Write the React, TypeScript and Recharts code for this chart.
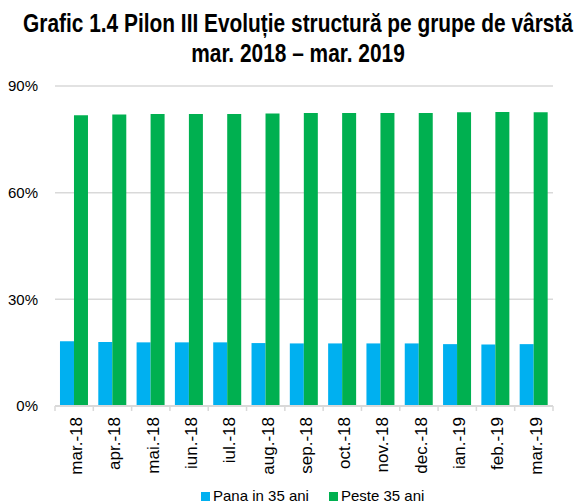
import { BarChart, Bar, XAxis, YAxis, CartesianGrid, Legend } from "recharts";

const months = [
  "mar.-18", "apr.-18", "mai.-18", "iun.-18", "iul.-18", "aug.-18", "sep.-18",
  "oct.-18", "nov.-18", "dec.-18", "ian.-19", "feb.-19", "mar.-19",
];
const under35 = [18.2, 18.0, 17.9, 17.9, 17.9, 17.7, 17.6, 17.6, 17.6, 17.6, 17.4, 17.3, 17.4];
const over35 = [81.8, 82.0, 82.1, 82.1, 82.1, 82.3, 82.4, 82.4, 82.4, 82.4, 82.6, 82.7, 82.6];
const yTicks = [0, 30, 60, 90];
const titleLines = [
  "Grafic 1.4 Pilon III Evoluție structură pe grupe de vârstă",
  "mar. 2018 – mar. 2019",
];

const BLUE = "#00b0f0";
const GREEN = "#00b050";
const GRID = "#d9d9d9";

const data = months.map((month, i) => ({
  month,
  under35: under35[i],
  over35: over35[i],
}));

/* eslint-disable @typescript-eslint/no-explicit-any */
function MonthTick({ x, y, payload, index, width }: any) {
  const half = payload?.offset || width / months.length / 2;
  return (
    <g>
      <line x1={x - half} x2={x - half} y1={y} y2={y + 5} stroke={GRID} strokeWidth={1.5} />
      {index === months.length - 1 && (
        <line x1={x + half} x2={x + half} y1={y} y2={y + 5} stroke={GRID} strokeWidth={1.5} />
      )}
      <text
        transform={`translate(${x},${y + 11}) rotate(-90)`}
        textAnchor="end"
        dy="0.46em"
        fontSize={17}
        fill="#000"
      >
        {payload.value}
      </text>
    </g>
  );
}

function LegendBox({ payload }: any) {
  return (
    <div
      style={{
        display: "flex",
        alignItems: "center",
        height: 22,
        paddingTop: 6,
        paddingLeft: 201,
        boxSizing: "border-box",
        fontSize: 15,
        lineHeight: "16px",
        color: "#000",
      }}
    >
      {payload.map((e: any, i: number) => (
        <div key={e.value} style={{ display: "flex", alignItems: "center", marginRight: i === 0 ? 20 : 0 }}>
          <span style={{ width: 9, height: 9, background: e.color, marginRight: 3, display: "inline-block" }} />
          <span>{e.value}</span>
        </div>
      ))}
    </div>
  );
}

export default function App() {
  return (
    <div
      style={{
        position: "absolute",
        left: 0,
        top: 0,
        width: 583,
        height: 504,
        background: "#fff",
        fontFamily: "'Liberation Sans', Arial, sans-serif",
      }}
    >
      <BarChart
        width={583}
        height={504}
        data={data}
        margin={{ top: 86, right: 30, left: 0, bottom: 0 }}
        barCategoryGap="13%"
        barGap={0}
      >
        <CartesianGrid vertical={false} stroke={GRID} strokeWidth={1.5} />
        <XAxis
          dataKey="month"
          interval={0}
          height={76}
          tickLine={false}
          tickSize={0}
          tickMargin={0}
          axisLine={{ stroke: GRID, strokeWidth: 2 }}
          tick={<MonthTick />}
        />
        <YAxis
          width={55}
          domain={[0, 90]}
          ticks={yTicks}
          tickFormatter={(v: number) => `${v}%`}
          axisLine={false}
          tickLine={false}
          tickMargin={11}
          tick={{ fill: "#000", fontSize: 15 }}
        />
        <Legend verticalAlign="bottom" height={22} content={<LegendBox />} />
        <Bar dataKey="under35" name="Pana in 35 ani" fill={BLUE} isAnimationActive={false} />
        <Bar dataKey="over35" name="Peste 35 ani" fill={GREEN} isAnimationActive={false} />
      </BarChart>
      {titleLines.map((line, i) => (
        <div
          key={line}
          style={{
            position: "absolute",
            top: 8 + i * 30,
            left: 298,
            whiteSpace: "nowrap",
            fontWeight: "bold",
            fontSize: 25,
            lineHeight: "30px",
            color: "#000",
            transform: "translateX(-50%) scaleX(0.835)",
            transformOrigin: "center",
          }}
        >
          {line}
        </div>
      ))}
    </div>
  );
}
